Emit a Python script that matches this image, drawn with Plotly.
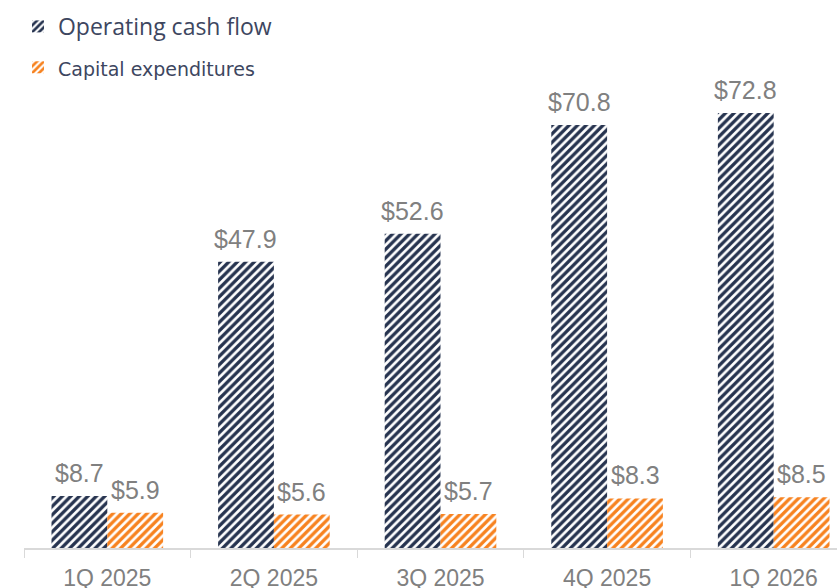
import plotly.graph_objects as go

categories = ["1Q 2025", "2Q 2025", "3Q 2025", "4Q 2025", "1Q 2026"]
operating_cash_flow = [8.7, 47.9, 52.6, 70.8, 72.8]
capital_expenditures = [5.9, 5.6, 5.7, 8.3, 8.5]

DARK = "#26334f"
ORANGE = "#f7821f"
GREY = "#808080"

fig = go.Figure()
fig.add_trace(go.Bar(
    x=categories, y=operating_cash_flow, name="Operating cash flow",
    legendgroup="a",
    marker=dict(color="white", line=dict(width=0),
                pattern=dict(shape="/", fgcolor=DARK, bgcolor="white", fgopacity=1,
                             size=6, solidity=0.55, fillmode="replace")),
))
fig.add_trace(go.Bar(
    x=categories, y=capital_expenditures,
    name="<span style='font-size:19px;font-family:DejaVu Sans'>Capital expenditures</span>",
    legendgroup="b",
    marker=dict(color="white", line=dict(width=0),
                pattern=dict(shape="/", fgcolor=ORANGE, bgcolor="white", fgopacity=1,
                             size=6, solidity=0.55, fillmode="replace")),
))

# value labels above each bar
for series, shift in ((operating_cash_flow, -28), (capital_expenditures, 28)):
    for cat, v in zip(categories, series):
        fig.add_annotation(x=cat, y=v, xref="x", yref="y", text=f"${v:.1f}", showarrow=False,
                           xanchor="center", yanchor="bottom", xshift=shift, yshift=7,
                           font=dict(family="Liberation Sans, Arial", size=25, color=GREY))

fig.update_layout(
    width=837, height=588,
    margin=dict(l=24, r=0, t=0, b=40, autoexpand=False),
    paper_bgcolor="white", plot_bgcolor="white",
    barmode="group", bargap=0.33, bargroupgap=0,
    showlegend=True,
    legend=dict(x=-0.0074, y=0.991, xanchor="left", yanchor="top",
                font=dict(family="Open Sans", size=23, color="#3d4660"),
                tracegroupgap=8, bgcolor="rgba(0,0,0,0)"),
    xaxis=dict(range=[-0.5, 4.38], showline=True, linecolor="#d9d9d9", linewidth=1.5,
               ticks="outside", tickson="boundaries", ticklen=8, tickcolor="#d9d9d9",
               ticklabelstandoff=9,
               tickfont=dict(family="Liberation Sans, Arial", size=23, color=GREY),
               showgrid=False),
    yaxis=dict(range=[0, 91.7], visible=False, showgrid=False),
)

fig.write_html("out.html", config={"displayModeBar": False},
               post_script="document.body.style.margin='0px';")
